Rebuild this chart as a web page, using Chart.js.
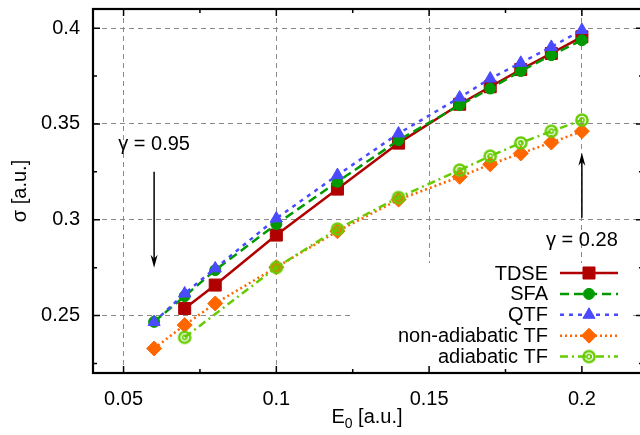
<!DOCTYPE html>
<html>
<head>
<meta charset="utf-8">
<script src="https://cdn.jsdelivr.net/npm/chart.js@4/dist/chart.umd.min.js"></script>
<style>
  html, body { margin: 0; padding: 0; background: #fff; overflow: hidden; }
  #wrap { width: 640px; height: 435px; overflow: hidden; }
</style>
</head>
<body>
<div id="wrap"><canvas id="chart" width="643" height="435"></canvas></div>
<script>
// ---------- Data ----------
const fieldAll = [0.06, 0.07, 0.08, 0.1, 0.12, 0.14, 0.16, 0.17, 0.18, 0.19, 0.2];
const fieldTdse = [0.07, 0.08, 0.1, 0.12, 0.14, 0.16, 0.17, 0.18, 0.19, 0.2];
const fieldAdiabatic = [0.07, 0.1, 0.12, 0.14, 0.16, 0.17, 0.18, 0.19, 0.2];

const sigmaTdse = [0.2537, 0.2659, 0.292, 0.316, 0.340, 0.3603, 0.3694, 0.3784, 0.3868, 0.3955];
const sigmaSfa = [0.2467, 0.2601, 0.2737, 0.2977, 0.3198, 0.3415, 0.3598, 0.3685, 0.3776, 0.3859, 0.3937];
const sigmaQtf = [0.2466, 0.2615, 0.2746, 0.3007, 0.3233, 0.345, 0.3638, 0.3737, 0.3819, 0.3902, 0.399];
const sigmaNonAdiabatic = [0.2328, 0.245, 0.2563, 0.2752, 0.294, 0.3105, 0.3224, 0.3289, 0.3346, 0.3403, 0.3462];
const sigmaAdiabatic = [0.2386, 0.2751, 0.2951, 0.3116, 0.3259, 0.3332, 0.3401, 0.3462, 0.352];

const xMajorTicks = [0.05, 0.1, 0.15, 0.2];
const xMinorTicks = [0.075, 0.125, 0.175];
const yMajorTicks = [0.25, 0.3, 0.35, 0.4];
const yMinorTicks = [0.225, 0.275, 0.325, 0.375];

// gamma labels with their arrows (x, label y, arrow tail y, arrow tip y)
const gammaLabels = ['γ = 0.95', 'γ = 0.28'];
const gammaX = [0.06, 0.2];
const gammaY = [0.3395, 0.2894];
const arrowTail = [0.325, 0.301];
const arrowTip = [0.275, 0.335];

const FONT = '"Liberation Sans", Arial, Helvetica, sans-serif';

function pts(xs, ys) {
  return xs.map((x, i) => ({ x: x, y: ys[i] }));
}

// ring-with-dot marker for the adiabatic curve
function ringMarker(color) {
  const c = document.createElement('canvas');
  c.width = 16; c.height = 16;
  const g = c.getContext('2d');
  g.strokeStyle = color;
  g.lineWidth = 2.5;
  g.beginPath(); g.arc(8, 8, 5.6, 0, Math.PI * 2); g.stroke();
  g.lineWidth = 1.6;
  g.beginPath(); g.arc(8, 8, 2.1, 0, Math.PI * 2); g.stroke();
  return c;
}

function series(label, data, color, dash, style, radius, order) {
  return {
    label: label,
    data: data,
    borderColor: color,
    backgroundColor: color,
    borderWidth: 2.5,
    borderDash: dash,
    pointStyle: style,
    pointRadius: radius,
    pointBorderWidth: 1,
    pointBorderColor: color,
    pointBackgroundColor: color,
    tension: 0,
    order: order
  };
}

const datasets = [
  series('TDSE', pts(fieldTdse, sigmaTdse), '#b00000', [], 'rect', 8.5, 5),
  series('SFA', pts(fieldAll, sigmaSfa), '#009a00', [9, 5], 'circle', 5.5, 4),
  series('QTF', pts(fieldAll, sigmaQtf), '#4a4aff', [4, 5], 'triangle', 7, 3),
  series('non-adiabatic TF', pts(fieldAll, sigmaNonAdiabatic), '#ff6600', [2, 3], 'rectRot', 7.5, 2),
  series('adiabatic TF', pts(fieldAdiabatic, sigmaAdiabatic), '#66cc00', [8, 4, 2, 4], ringMarker('#66cc00'), 6, 1)
];

function drawArrow(ctx, x, y1, y2) {
  const dir = Math.sign(y2 - y1);
  ctx.beginPath();
  ctx.moveTo(x, y1);
  ctx.lineTo(x, y2 - dir * 8);
  ctx.stroke();
  ctx.beginPath();
  ctx.moveTo(x, y2);
  ctx.lineTo(x - 3.5, y2 - dir * 13);
  ctx.lineTo(x, y2 - dir * 9);
  ctx.lineTo(x + 3.5, y2 - dir * 13);
  ctx.closePath();
  ctx.fill();
}

const overlay = {
  id: 'overlay',
  beforeDatasetsDraw(chart) {
    const { ctx, chartArea: a } = chart;
    // opaque key box hides the grid behind it
    ctx.save();
    ctx.fillStyle = '#fff';
    ctx.fillRect(350, 263, 280, a.bottom - 263);
    ctx.restore();
  },
  afterDatasetsDraw(chart) {
    const { ctx, chartArea: a } = chart;
    const sx = chart.scales.x, sy = chart.scales.y;
    ctx.save();

    // key
    ctx.font = '20px ' + FONT;
    ctx.textAlign = 'right';
    ctx.textBaseline = 'middle';
    chart.data.datasets.forEach((ds, i) => {
      const y = 273 + i * 20.9;
      ctx.fillStyle = '#000';
      ctx.fillText(ds.label, 548, y + 1);
      ctx.strokeStyle = ds.borderColor;
      ctx.lineWidth = ds.borderWidth;
      ctx.setLineDash(ds.borderDash);
      ctx.beginPath(); ctx.moveTo(560, y); ctx.lineTo(618, y); ctx.stroke();
      ctx.setLineDash([]);
      ctx.fillStyle = ds.pointBackgroundColor;
      ctx.lineWidth = ds.pointBorderWidth;
      if (Chart.helpers && Chart.helpers.drawPoint) {
        Chart.helpers.drawPoint(ctx, {
          pointStyle: ds.pointStyle, radius: ds.pointRadius,
          borderWidth: ds.pointBorderWidth, rotation: 0
        }, 589, y);
      }
    });

    // gamma labels and arrows
    ctx.textAlign = 'center';
    ctx.fillStyle = '#000';
    ctx.strokeStyle = '#000';
    ctx.lineWidth = 1.5;
    gammaLabels.forEach((t, i) => {
      const x = sx.getPixelForValue(gammaX[i]);
      ctx.fillText(t, x, sy.getPixelForValue(gammaY[i]));
      drawArrow(ctx, x, sy.getPixelForValue(arrowTail[i]), sy.getPixelForValue(arrowTip[i]));
    });

    // tick marks on all sides, pointing in
    ctx.lineWidth = 1.5;
    ctx.beginPath();
    const tx = (v, len) => {
      const x = sx.getPixelForValue(v);
      ctx.moveTo(x, a.bottom); ctx.lineTo(x, a.bottom - len);
      ctx.moveTo(x, a.top); ctx.lineTo(x, a.top + len);
    };
    const ty = (v, len) => {
      const y = sy.getPixelForValue(v);
      ctx.moveTo(a.left, y); ctx.lineTo(a.left + len, y);
      ctx.moveTo(a.right, y); ctx.lineTo(a.right - len, y);
    };
    xMajorTicks.forEach(v => tx(v, 7));
    xMinorTicks.forEach(v => tx(v, 4));
    yMajorTicks.forEach(v => ty(v, 7));
    yMinorTicks.forEach(v => ty(v, 4));
    ctx.stroke();

    // frame
    ctx.lineWidth = 2.2;
    ctx.strokeRect(a.left, a.top, a.right - a.left, a.bottom - a.top);

    // axis titles
    ctx.save();
    ctx.translate(20, 191);
    ctx.rotate(-Math.PI / 2);
    ctx.textAlign = 'center';
    ctx.fillText('σ [a.u.]', 0, 0);
    ctx.restore();

    ctx.textAlign = 'left';
    ctx.textBaseline = 'alphabetic';
    ctx.font = '20px ' + FONT;
    const wE = ctx.measureText('E').width;
    const wRest = ctx.measureText(' [a.u.]').width;
    ctx.font = '14px ' + FONT;
    const w0 = ctx.measureText('0').width;
    let x0 = (a.left + a.right) / 2 - (wE + w0 + wRest) / 2 - 1;
    ctx.font = '20px ' + FONT;
    ctx.fillText('E', x0, 423);
    ctx.font = '14px ' + FONT;
    ctx.fillText('0', x0 + wE, 428);
    ctx.font = '20px ' + FONT;
    ctx.fillText(' [a.u.]', x0 + wE + w0, 423);

    ctx.restore();
  }
};

const fmt = v => String(+v.toFixed(3));

new Chart(document.getElementById('chart').getContext('2d'), {
  type: 'line',
  data: { datasets: datasets },
  options: {
    responsive: false,
    animation: false,
    layout: { autoPadding: false, padding: { top: 9, right: 0, left: 0, bottom: 0 } },
    plugins: { legend: { display: false }, tooltip: { enabled: false } },
    scales: {
      x: {
        type: 'linear',
        min: 0.04,
        max: 0.22,
        afterFit: s => { s.height = 62; s.paddingLeft = 0; s.paddingRight = 0; },
        afterBuildTicks: s => { s.ticks = xMajorTicks.map(v => ({ value: v })); },
        ticks: { padding: 14, color: '#000', font: { family: FONT, size: 20 }, callback: fmt, maxRotation: 0, autoSkip: false },
        grid: { color: '#8a8a8a', lineWidth: 1, drawTicks: false },
        border: { display: false, dash: [5, 4] }
      },
      y: {
        type: 'linear',
        min: 0.22,
        max: 0.41,
        afterFit: s => { s.width = 93; s.paddingTop = 0; s.paddingBottom = 0; },
        afterBuildTicks: s => { s.ticks = yMajorTicks.map(v => ({ value: v })); },
        ticks: { padding: 13, color: '#000', font: { family: FONT, size: 20 }, callback: fmt, autoSkip: false },
        grid: { color: '#8a8a8a', lineWidth: 1, drawTicks: false },
        border: { display: false, dash: [5, 4] }
      }
    }
  },
  plugins: [overlay]
});
</script>
</body>
</html>
